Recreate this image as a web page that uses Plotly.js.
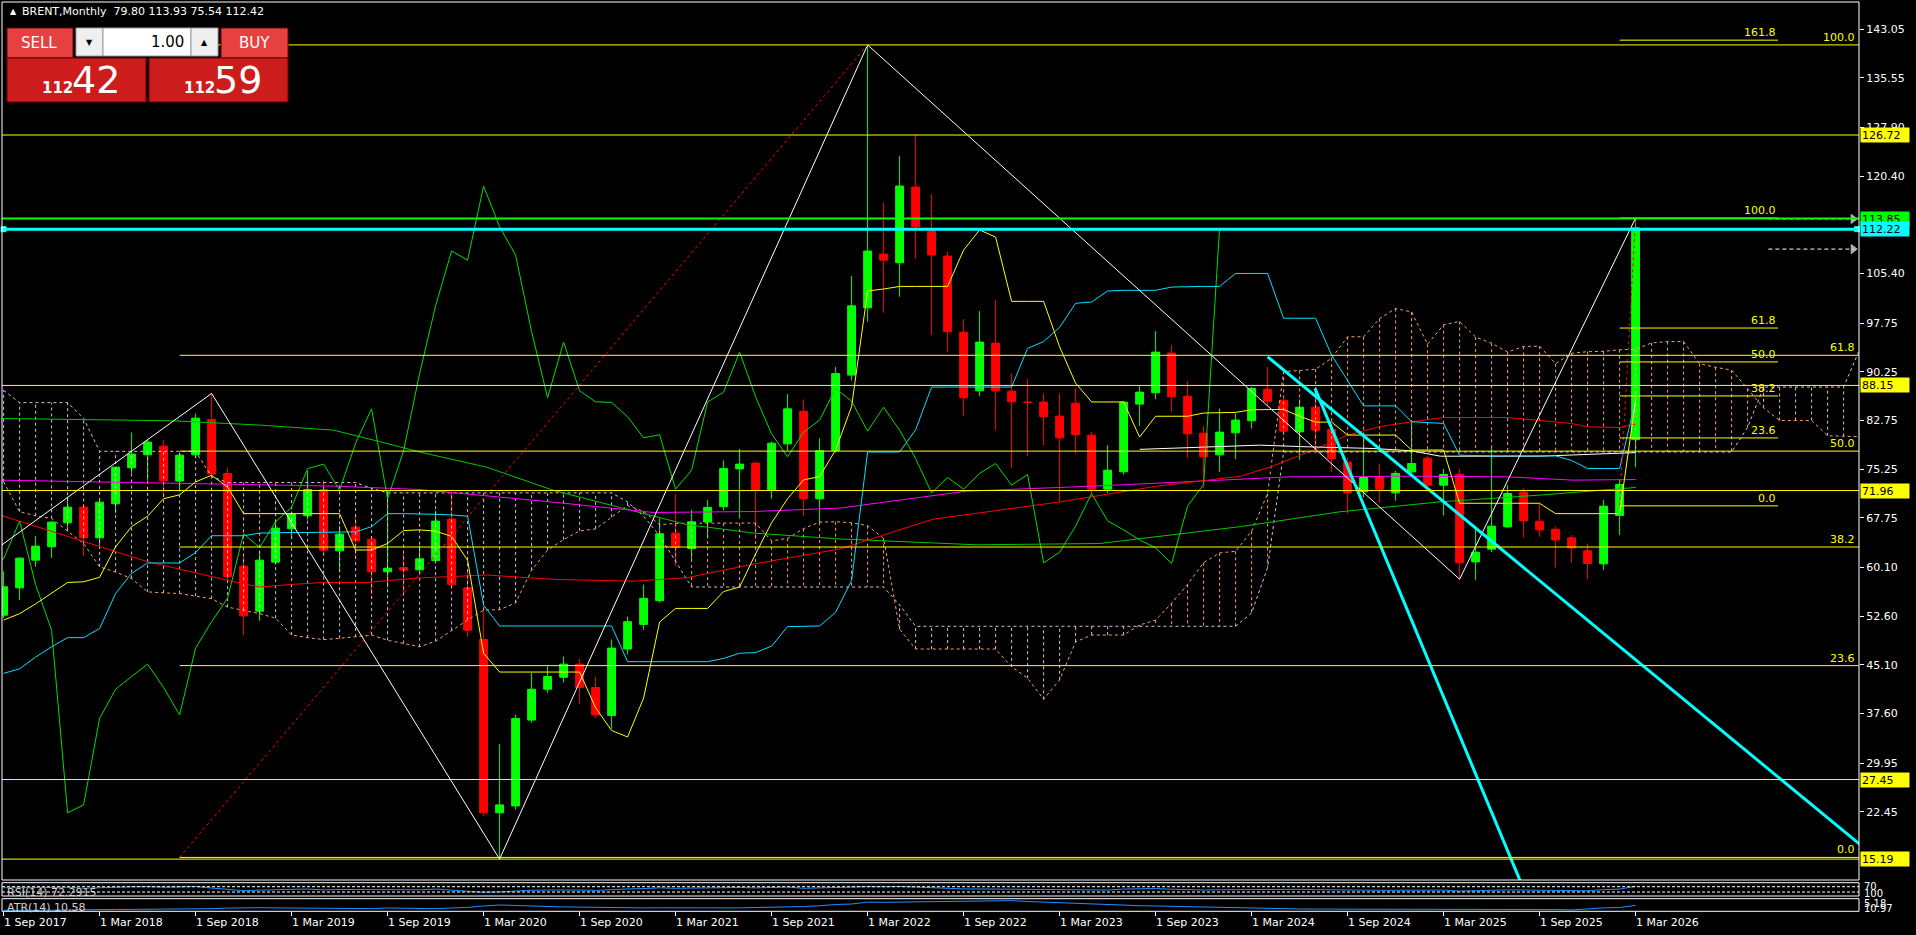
<!DOCTYPE html>
<html><head><meta charset="utf-8">
<script src="https://cdn.plot.ly/plotly-3.0.1.min.js"></script>
<style>html,body{margin:0;padding:0;background:#000;overflow:hidden}#chart{width:1916px;height:935px}</style>
</head><body><div id="chart"></div>
<script>
// ---------- DATA ----------
const tickLabels = ['1 Sep 2017','1 Mar 2018','1 Sep 2018','1 Mar 2019','1 Sep 2019','1 Mar 2020','1 Sep 2020','1 Mar 2021','1 Sep 2021','1 Mar 2022','1 Sep 2022','1 Mar 2023','1 Sep 2023','1 Mar 2024','1 Sep 2024','1 Mar 2025','1 Sep 2025','1 Mar 2026'];
const tickBars = [0,6,12,18,24,30,36,42,48,54,60,66,72,78,84,90,96,102];
const priceTicks = [143.05,135.55,127.90,120.40,105.40,97.75,90.25,82.75,75.25,67.75,60.10,52.60,45.10,37.60,29.95,22.45];

const open = [52.76,56.97,61.24,63.29,66.99,69.40,64.68,69.92,75.46,77.47,
78.80,73.41,77.47,82.91,74.59,60.31,53.38,60.93,66.06,68.07,
72.12,62.67,66.32,64.47,59.44,60.10,59.75,61.17,67.57,57.00,
49.02,22.32,23.38,36.60,41.35,43.20,45.21,41.62,37.30,47.54,
51.34,54.99,65.40,63.02,67.10,69.47,75.29,76.19,72.00,79.15,
84.17,70.69,78.09,89.74,100.11,108.38,107.05,118.71,112.29,108.07,
96.36,87.32,94.67,87.27,85.60,85.58,83.42,85.42,80.49,72.17,
74.85,85.27,87.02,93.13,86.50,80.80,77.46,80.85,82.70,87.58,
85.88,81.00,84.80,81.36,76.33,71.76,74.07,71.60,74.84,76.95,
72.79,74.48,60.97,62.93,66.37,71.71,67.24,66.00,64.67,62.67,
60.67,68.11,79.80];
const high = [59.5,61.7,64.93,67.3,71.0,69.9,70.5,75.6,80.91,79.8,
79.73,77.6,83.83,86.92,75.5,62.0,62.5,67.4,68.7,75.0,
73.57,66.5,67.9,65.0,71.95,62.3,63.5,68.84,71.8,59.5,
53.77,32.89,37.4,43.89,44.89,46.4,46.0,43.3,49.02,52.56,
57.47,67.68,71.4,68.99,70.5,76.61,78.35,76.4,79.5,86.81,
86.0,80.0,91.0,105.0,140.6,116.29,123.48,126.77,117.63,108.74,
98.37,99.6,101.3,90.0,89.13,86.93,86.93,87.74,81.0,78.95,
85.8,88.04,96.52,94.36,88.8,81.9,84.6,83.83,87.94,91.0,
86.0,86.0,87.9,81.5,77.0,80.9,76.1,75.0,82.5,77.3,
75.3,75.3,66.0,78.6,72.8,72.3,69.96,66.4,65.1,63.8,
70.5,73.6,113.93];
const low = [52.3,55.07,60.21,61.59,66.2,61.9,63.03,68.43,74.6,73.5,
70.89,71.9,77.0,74.17,58.1,49.68,51.89,60.6,64.6,67.5,
61.9,59.45,61.5,55.9,57.0,56.2,59.2,61.0,57.2,49.39,
21.79,15.19,22.8,36.2,40.8,42.4,39.08,36.85,35.27,46.74,
50.5,54.7,60.38,61.3,64.6,68.9,67.62,64.5,70.7,78.1,
68.05,66.99,77.8,88.9,97.96,99.34,101.81,107.72,95.9,93.33,
83.47,86.5,81.26,75.46,77.26,78.95,70.22,77.67,71.3,71.6,
74.4,81.88,86.0,84.09,77.0,72.3,74.84,76.8,81.5,85.0,
80.4,76.7,78.2,74.8,68.4,70.9,70.1,70.4,74.2,72.3,
68.1,58.3,58.2,62.5,66.2,64.7,64.83,60.1,60.82,58.3,
59.7,65.1,75.54];
const close = [57.13,61.54,63.39,67.09,69.40,64.68,70.17,75.56,77.57,79.42,
73.46,77.41,83.11,74.49,58.67,52.66,61.24,66.17,68.37,72.12,
62.78,65.24,64.21,59.44,60.00,59.70,61.44,67.25,57.47,50.44,
22.32,23.54,36.86,41.35,43.31,45.21,41.62,37.39,47.69,51.76,
55.36,65.30,63.18,67.15,69.37,75.34,76.03,72.01,79.25,84.54,
70.69,78.09,89.98,100.42,108.85,107.45,118.86,112.59,108.23,96.42,
86.25,94.82,87.32,85.63,85.53,83.32,80.08,80.55,72.17,75.10,
85.58,87.12,93.28,86.40,80.70,77.16,80.96,82.81,87.68,85.73,
81.11,84.80,81.26,76.90,71.60,73.97,72.17,74.60,76.12,72.79,
74.43,60.82,62.46,66.47,71.50,67.29,65.90,64.36,63.13,60.72,
69.55,72.89,112.42];

// Ichimoku
const tenkan = [52.0,53.0,54.5,56.1,57.8,57.9,58.6,63.3,66.4,68.0,
70.7,71.3,73.3,74.3,72.5,68.4,68.4,68.4,68.4,68.4,
68.4,68.4,62.8,62.8,63.8,65.8,65.9,65.7,64.9,61.2,
46.9,44.0,44.0,44.0,44.0,44.0,44.0,38.5,35.0,34.0,
40.0,51.7,53.8,53.8,53.8,56.4,57.1,62.2,67.0,70.7,
73.6,74.1,78.2,84.9,102.7,103.0,103.4,103.4,103.4,103.4,
109.0,112.1,111.0,101.1,101.1,101.1,94.1,88.5,85.6,85.6,
85.6,80.2,83.4,83.4,83.4,83.9,84.0,84.0,84.4,84.45,
84.45,83.4,82.5,82.5,80.5,80.5,80.5,80.5,78.2,78.2,
78.2,70.0,70.0,70.0,70.0,70.0,70.0,68.4,68.4,68.4,
68.4,68.4,85.9];
const kijun = [43.8,44.5,46.3,47.9,49.3,49.3,50.7,56.1,59.2,60.8,
60.8,60.8,62.4,65.0,65.0,65.0,65.4,65.5,65.5,65.5,
65.5,65.5,65.6,66.4,68.4,68.4,68.4,68.3,68.2,68.0,
54.3,51.1,51.1,51.1,51.1,51.1,51.1,51.1,51.1,45.6,
45.6,45.6,45.6,45.6,45.6,46.1,46.9,47.0,48.0,51.0,
51.1,51.1,53.2,58.1,77.9,77.9,77.9,81.3,87.9,87.9,
87.9,87.9,87.9,87.9,93.85,94.9,97.1,100.8,101.0,102.7,
102.8,102.8,102.8,103.3,103.4,103.4,103.4,105.4,105.4,105.4,
98.5,98.5,98.5,92.8,88.9,85.0,85.0,85.0,82.55,82.4,
82.3,77.4,77.3,77.3,77.3,77.3,77.3,77.3,76.6,75.35,
75.35,75.35,85.9];
const spanA = [73.3,68.7,68.07,67.66,65.7,63.8,60.2,59.4,58.4,56.35,
56.2,56.1,55.7,55.3,54.0,53.5,53.0,52.3,49.7,49.3,
49.0,49.2,49.4,49.7,48.9,48.4,47.9,48.75,50.4,52.0,
53.55,53.6,54.65,59.7,62.8,64.4,65.75,66.05,67.85,69.65,
68.75,66.7,66.9,66.95,66.95,66.95,66.95,66.95,64.2,64.6,
66.1,67.1,67.15,67.0,66.55,64.6,50.6,47.55,47.55,47.55,
47.55,47.55,47.55,44.8,43.05,39.8,42.8,48.65,49.7,49.7,
49.7,51.25,52.0,54.6,57.5,60.85,62.35,62.6,65.7,71.5,
90.3,90.45,90.65,92.35,95.65,95.65,98.45,100.0,99.45,94.5,
97.5,98.0,95.6,94.65,93.3,94.15,94.2,91.5,93.1,93.35,
93.4,93.65,93.7,94.7,94.9,94.9,91.5,90.95,90.5,87.65,
84.7,82.75,82.75,82.75,80.4,80.3,80.25,73.7];
const spanB = [87.4,85.5,85.5,85.5,85.5,83.1,78.0,78.0,78.0,78.0,
78.0,78.0,78.0,74.1,73.2,73.2,73.2,73.2,73.2,73.2,
73.2,73.2,73.2,72.3,71.6,71.6,71.6,71.6,71.6,71.6,
71.6,71.6,71.6,71.6,71.6,71.6,71.6,71.6,71.6,70.2,
68.0,65.0,61.0,57.1,57.1,57.1,57.1,57.1,57.1,57.1,
57.1,57.1,57.1,57.1,57.1,57.1,54.35,51.05,51.05,51.05,
51.05,51.05,51.05,51.05,51.05,51.05,51.05,51.05,51.05,51.05,
51.05,51.05,51.05,51.05,51.05,51.05,51.05,51.05,53.1,60.1,
77.9,77.9,77.9,77.9,77.9,77.9,77.9,77.9,77.9,77.9,
77.9,77.9,77.9,77.9,77.9,77.9,77.9,77.9,77.9,77.9,
77.9,77.9,77.9,77.9,77.9,77.9,77.9,77.9,77.9,81.7,
87.9,87.9,87.9,87.9,87.9,87.9,93.67,95.55];
const chikouShift = 26;

// moving averages (vertices)
const redMaX = [-0.2,9,14.4,16,18,20,22.7,26,30.2,34.4,39.4,42.7,46.9,52.3,58.1,66,72,77.3,79.2,82.1,84,86,88,90,94,96,98,99,101,102];
const redMaY = [68.17,61.0,57.9,57.1,57.5,57.8,57.8,58.5,58.95,58.27,58.0,58.53,60.65,62.97,67.55,70.2,72.6,74.17,75.6,78.44,80.49,81.8,82.54,83.21,83.21,82.8,82.29,81.77,81.67,82.2];
const magMaX = [-0.2,10.2,20.6,26,34.4,40.6,46.9,52.3,60.2,68.5,77.3,80.4,87.7,94,98.1,102];
const magMaY = [73.56,73.15,72.64,72.12,70.16,68.58,68.73,69.26,71.87,72.68,73.66,74.07,74.17,74.07,73.56,73.66];
const grnMaX = [-0.2,10.6,16,20.6,23.5,26,30.2,34.4,38.5,42.7,46.9,52.3,60.8,68.5,77.3,83.5,89.8,96,102];
const grnMaY = [83.06,82.7,82.04,81.27,79.5,77.9,75.55,71.96,69.37,66.72,65.40,64.50,63.6,63.8,66.4,68.68,70.22,71.25,72.43];
const whiteLnX = [71,78.5,81.4,85.6,88,89.8,96,101,102];
const whiteLnY = [78.3,78.95,78.7,78.44,78.08,77.25,77.25,77.7,77.8];

// zigzag
const zigX = [-1,13,31,54,91,102];
const zigY = [62.0,86.92,15.19,140.6,58.3,113.93];

// fibonacci objects
const fib1Names = ['0.0','23.6','38.2','50.0','61.8','100.0'];
const fib1Prices = [15.45,44.99,63.26,78.03,92.79,140.6];
const fib1From = 11;
const fib1Anchor = {x:[11,54], y:[15.45,140.6]};
const fib2Names = ['0.0','23.6','38.2','50.0','61.8','100.0','161.8'];
const fib2Prices = [69.6,80.06,86.53,91.77,96.99,113.93,141.33];
const fib2From = 101, fib2To = 110.9;
const fib2Anchor = {x:[101,102], y:[69.6,113.93]};

// horizontal lines
const hLevels = [126.72,88.15,71.96,27.45,15.19];
const greenLevel = 113.85, cyanLevel = 112.22;

// cyan trend lines (two anchors each)
const trendA = {x:[79.0,97.48], y:[92.56,55.07]};
const trendB = {x:[81.96,94.7], y:[87.69,12.35]};

// dashed arrows on the right
const arrowX = [110.3,115.6];
const arrowLevels = [113.80,109.15];

// oscillators
const rsi = [62,61,63,64,66,58,62,67,69,70,
66,68,71,60,48,40,44,49,50,52,
46,49,48,45,46,45,47,52,44,38,
28,31,38,43,45,47,45,42,50,53,
56,61,58,60,61,64,64,61,64,67,
58,62,66,69,70,69,71,67,65,58,
53,55,52,51,50,49,47,47,43,45,
52,53,56,51,47,45,47,48,52,51,
49,50,48,45,42,44,43,44,45,43,
44,37,38,43,46,44,43,41,41,39,
48,52,72.29];
const atr = [5.5,5.4,5.5,5.6,5.9,6.3,6.5,6.4,6.5,6.6,
6.7,6.6,6.7,7.2,7.8,8.3,8.2,8.0,7.8,7.7,
7.8,7.6,7.5,7.3,7.9,7.6,7.3,7.2,7.9,8.5,
10.0,11.0,10.5,9.8,9.3,9.0,8.8,8.5,8.5,8.2,
8.0,8.1,8.0,7.7,7.6,7.7,8.0,8.4,8.6,8.8,
9.4,10.2,11.5,12.0,14.0,13.8,14.0,14.4,15.0,15.3,
15.5,15.8,15.9,15.5,14.6,13.9,13.5,12.8,12.0,11.2,
10.8,10.3,10.0,9.6,9.2,8.9,8.6,8.2,7.6,7.2,
7.0,6.9,6.8,6.8,6.9,7.0,6.8,6.6,6.5,6.4,
6.4,6.8,6.8,6.9,6.8,6.6,6.4,6.3,5.9,7.0,
8.0,8.4,10.58];
const rsiLevels = [70,30];

// ---------- LAYOUT HELPERS ----------
const W = 1916, H = 935, ML = 2, MR = 57;
const PW = W - ML - MR;
const px = x => (x - ML) / PW;
const py = y => 1 - y / H;
const X0 = -0.1, X1 = 115.9625;
const mainDom = [py(880), py(2)];
const rsiDom = [py(896), py(882.7)];
const atrDom = [py(911.3), py(898.7)];
const FONT = 'DejaVu Sans';

const bars = open.map((_, i) => i);
const traces = [];

traces.push({type:'candlestick', x:bars, open:open, high:high, low:low, close:close,
  increasing:{line:{color:'#00ff00',width:1}, fillcolor:'#00ff00'},
  decreasing:{line:{color:'#ff0000',width:1}, fillcolor:'#ff0000'},
  whiskerwidth:0, hoverinfo:'skip', xaxis:'x', yaxis:'y'});

// cloud hatching
const hTh = {x:[], y:[]}, hSb = {x:[], y:[]};
spanA.forEach((a, t) => {
  const tgt = a >= spanB[t] ? hSb : hTh;
  tgt.x.push(t, t, null); tgt.y.push(a, spanB[t], null);
});
const spanIdx = spanA.map((_, i) => i);
traces.push({type:'scatter', mode:'lines', x:hTh.x, y:hTh.y, line:{color:'#d8bfd8', width:1, dash:'3px,3px'}, hoverinfo:'skip'});
traces.push({type:'scatter', mode:'lines', x:hSb.x, y:hSb.y, line:{color:'#f4a460', width:1, dash:'3px,3px'}, hoverinfo:'skip'});
traces.push({type:'scatter', mode:'lines', x:spanIdx, y:spanA, line:{color:'#f4a460', width:1, dash:'3px,3px'}, hoverinfo:'skip'});
traces.push({type:'scatter', mode:'lines', x:spanIdx, y:spanB, line:{color:'#d8bfd8', width:1, dash:'3px,3px'}, hoverinfo:'skip'});

// moving averages
traces.push({type:'scatter', mode:'lines', x:grnMaX, y:grnMaY, line:{color:'#00c800', width:1}, hoverinfo:'skip'});
traces.push({type:'scatter', mode:'lines', x:magMaX, y:magMaY, line:{color:'#ff00ff', width:1}, hoverinfo:'skip'});
traces.push({type:'scatter', mode:'lines', x:redMaX, y:redMaY, line:{color:'#ff0000', width:1}, hoverinfo:'skip'});
traces.push({type:'scatter', mode:'lines', x:whiteLnX, y:whiteLnY, line:{color:'#ffffff', width:1}, hoverinfo:'skip'});

// chikou, kijun, tenkan
traces.push({type:'scatter', mode:'lines', x:bars.map(i => i - chikouShift), y:close, line:{color:'#00dd00', width:1}, hoverinfo:'skip'});
traces.push({type:'scatter', mode:'lines', x:bars, y:kijun, line:{color:'#00e0ff', width:1}, hoverinfo:'skip'});
traces.push({type:'scatter', mode:'lines', x:bars, y:tenkan, line:{color:'#ffff00', width:1}, hoverinfo:'skip'});

// zigzag + fib anchor lines
traces.push({type:'scatter', mode:'lines', x:zigX, y:zigY, line:{color:'#ffffff', width:1}, hoverinfo:'skip'});
traces.push({type:'scatter', mode:'lines', x:fib1Anchor.x, y:fib1Anchor.y, line:{color:'#ff0000', width:1, dash:'dot'}, hoverinfo:'skip'});
traces.push({type:'scatter', mode:'lines', x:fib2Anchor.x, y:fib2Anchor.y, line:{color:'#ff0000', width:1, dash:'3px,3px'}, hoverinfo:'skip'});

// cyan trend rays
function ray(t, xEnd) {
  const s = (t.y[1] - t.y[0]) / (t.x[1] - t.x[0]);
  return {x:[t.x[0], xEnd], y:[t.y[0], t.y[0] + s * (xEnd - t.x[0])]};
}
const rA = ray(trendA, X1 + 1), rB = ray(trendB, 97);
traces.push({type:'scatter', mode:'lines', x:rA.x, y:rA.y, line:{color:'#00ffff', width:3}, hoverinfo:'skip'});
traces.push({type:'scatter', mode:'lines', x:rB.x, y:rB.y, line:{color:'#00ffff', width:3}, hoverinfo:'skip'});

// dashed arrows
arrowLevels.forEach(lv => {
  traces.push({type:'scatter', mode:'lines+markers', x:arrowX, y:[lv, lv], line:{color:'#ffffff', width:1, dash:'4px,3px'},
    marker:{symbol:'triangle-right', size:[0,8], color:'#ffffff'}, hoverinfo:'skip', cliponaxis:false});
});
// small handle squares at the ends of the cyan level line
traces.push({type:'scatter', mode:'markers', x:[X0 + 0.1, X1 - 0.12], y:[cyanLevel, cyanLevel],
  marker:{symbol:'square', size:5, color:'#ffffff', line:{color:'#00ffff', width:1}}, hoverinfo:'skip', cliponaxis:false});

// oscillators
traces.push({type:'scatter', mode:'lines', x:bars, y:rsi, line:{color:'#1e90ff', width:1}, xaxis:'x', yaxis:'y2', hoverinfo:'skip'});
traces.push({type:'scatter', mode:'lines', x:bars, y:atr, line:{color:'#1e90ff', width:1}, xaxis:'x', yaxis:'y3', hoverinfo:'skip'});

// ---------- SHAPES ----------
const shapes = [];
const hline = (y, color, width, x0, x1, dash) => ({type:'line', xref:'x', yref:'y', x0:x0, x1:x1, y0:y, y1:y, line:{color:color, width:width, dash:dash||'solid'}, layer:'above'});
hLevels.forEach(lv => shapes.push(hline(lv, '#ffff00', 1, X0, X1)));
fib1Prices.forEach(p => shapes.push(hline(p, '#ffff00', 1, fib1From, X1)));
fib2Prices.forEach(p => shapes.push(hline(p, '#ffff00', 1, fib2From, fib2To)));
shapes.push(hline(greenLevel, '#00ff00', 2, X0, X1));
shapes.push(hline(cyanLevel, '#00ffff', 3, X0, X1));
rsiLevels.forEach(lv => shapes.push({type:'line', xref:'paper', yref:'y2', x0:0, x1:1, y0:lv, y1:lv, line:{color:'#ffffff', width:1, dash:'3px,2px'}, layer:'above'}));
[mainDom, rsiDom, atrDom].forEach(d => shapes.push({type:'rect', xref:'paper', yref:'paper', x0:0, x1:1, y0:d[0], y1:d[1], line:{color:'#ffffff', width:1}, fillcolor:'rgba(0,0,0,0)', layer:'above'}));

function rect(x0, y0, x1, y1, fill, line) {
  return {type:'rect', xref:'paper', yref:'paper', x0:px(x0), x1:px(x1), y0:py(y1), y1:py(y0), fillcolor:fill, line:{color:line, width:1}, layer:'above'};
}
shapes.push(rect(7,28,73,58,'#e64040','#6a0000'));
shapes.push(rect(221,28,288,58,'#e64040','#6a0000'));
shapes.push(rect(7,58,146,102,'#cc1c1c','#6a0000'));
shapes.push(rect(149,58,288,102,'#cc1c1c','#6a0000'));
shapes.push(rect(76,28,103,56,'#efefef','#9a9a9a'));
shapes.push(rect(103,28,191,56,'#ffffff','#9a9a9a'));
shapes.push(rect(191,28,218,56,'#efefef','#9a9a9a'));

// ---------- ANNOTATIONS ----------
const ann = [];
function txt(x, y, text, size, color, xanchor, bold) {
  ann.push({xref:'paper', yref:'paper', x:px(x), y:py(y), text: bold ? '<b>' + text + '</b>' : text, showarrow:false,
    xanchor:xanchor || 'center', yanchor:'middle', font:{family:FONT, size:size, color:color}});
}
const last = open.length - 1;
txt(8, 12, '\u25B2', 8, '#ffffff', 'left');
txt(20, 12, 'BRENT,Monthly  ' + [open[last], high[last], low[last], close[last]].map(v => v.toFixed(2)).join(' '), 11, '#ffffff', 'left');
txt(39, 43, 'SELL', 15, '#ffffff');
txt(89, 42, '\u25BC', 8, '#000000');
txt(186, 42, '1.00', 15, '#000000', 'right');
txt(204, 42, '\u25B2', 8, '#000000');
txt(254, 43, 'BUY', 15, '#ffffff');
txt(57, 88, '112', 15, '#ffffff', 'center', true);
txt(96, 80, '42', 38, '#ffffff');
txt(199, 88, '112', 15, '#ffffff', 'center', true);
txt(238, 80, '59', 38, '#ffffff');
txt(5, 892, 'RSI(14) 72.2915', 11, '#d0d0d0', 'left');
txt(5, 907, 'ATR(14) 10.58', 11, '#d0d0d0', 'left');
txt(1862, 886, '70', 10, '#ffffff', 'left');
txt(1862, 893, '100', 10, '#ffffff', 'left');
txt(1862, 903.5, '5.18', 10, '#ffffff', 'left');
txt(1862, 908, '10.97', 10, '#ffffff', 'left');

function priceBox(level, bg) {
  ann.push({xref:'paper', yref:'y', x:1, xshift:1, y:level, xanchor:'left', yanchor:'middle', text:level.toFixed(2), showarrow:false,
    bgcolor:bg, font:{family:FONT, size:11, color:'#000000'}, width:46, height:12, align:'left', borderpad:1});
}
hLevels.forEach(lv => priceBox(lv, '#ffff00'));
priceBox(greenLevel, '#00ff00');
priceBox(cyanLevel, '#00ffff');

fib1Prices.forEach((p, i) => ann.push({xref:'paper', yref:'y', x:1, xshift:-2, y:p, xanchor:'right', yanchor:'bottom', yshift:-1,
  text:fib1Names[i], showarrow:false, font:{family:FONT, size:11, color:'#ffff00'}}));
fib2Prices.forEach((p, i) => ann.push({xref:'x', yref:'y', x:fib2To, y:p, xanchor:'right', yanchor:'bottom', yshift:-1,
  text:fib2Names[i], showarrow:false, font:{family:FONT, size:11, color:'#ffff00'}}));

const layout = {
  width:W, height:H, margin:{l:ML, r:MR, t:0, b:0},
  paper_bgcolor:'#000000', plot_bgcolor:'#000000', showlegend:false,
  font:{family:FONT, size:11, color:'#ffffff'},
  xaxis:{range:[X0, X1], anchor:'y3', tickmode:'array', tickvals:tickBars, ticktext:tickLabels, ticks:'outside', ticklen:4,
    tickcolor:'#ffffff', ticklabelposition:'outside right', showgrid:false, zeroline:false, showline:false,
    tickfont:{family:FONT, size:11, color:'#ffffff'}, rangeslider:{visible:false}, fixedrange:true},
  yaxis:{domain:mainDom, range:[11.97, 147.21], side:'right', anchor:'x', tickmode:'array', tickvals:priceTicks,
    ticktext:priceTicks.map(v => v.toFixed(2)), ticks:'outside', ticklen:4, tickcolor:'#ffffff', showgrid:false,
    zeroline:false, showline:false, tickfont:{family:FONT, size:11, color:'#ffffff'}, fixedrange:true},
  yaxis2:{domain:rsiDom, range:[0, 100], anchor:'x', showticklabels:false, showgrid:false, zeroline:false, ticks:''},
  yaxis3:{domain:atrDom, range:[4.5, 17.5], anchor:'x', showticklabels:false, showgrid:false, zeroline:false, ticks:''},
  shapes:shapes, annotations:ann
};
Plotly.newPlot('chart', traces, layout, {staticPlot:true, displayModeBar:false});
</script>
</body></html>
